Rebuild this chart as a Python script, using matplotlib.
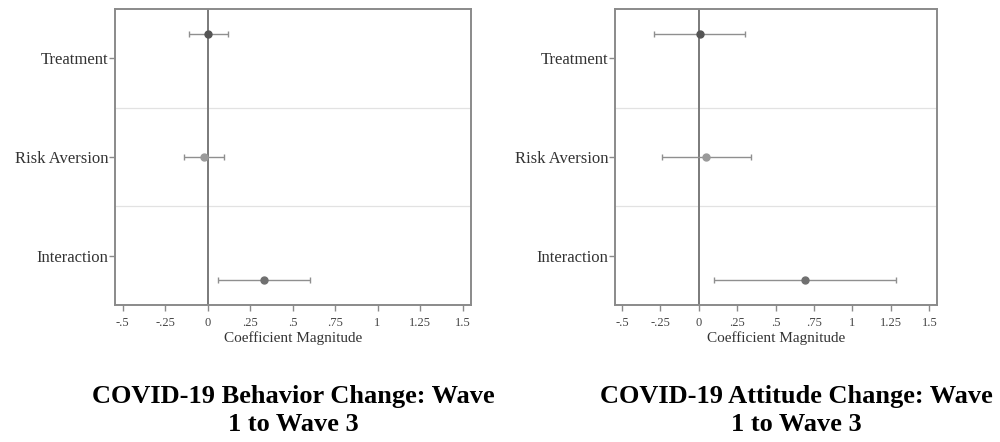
import numpy as np
import matplotlib
matplotlib.use("Agg")
import matplotlib.pyplot as plt

plt.rcParams['font.family'] = ['Liberation Serif', 'DejaVu Serif']

# --- data ---
terms = ["Treatment", "Risk Aversion", "Interaction"]

behavior_coef = [0.0, -0.02, 0.33]
behavior_lo = [-0.11, -0.14, 0.06]
behavior_hi = [0.12, 0.095, 0.60]

attitude_coef = [0.01, 0.045, 0.69]
attitude_lo = [-0.29, -0.24, 0.10]
attitude_hi = [0.30, 0.34, 1.28]

xtick_vals = [-0.5, -0.25, 0, 0.25, 0.5, 0.75, 1, 1.25, 1.5]
xtick_labels = ["-.5", "-.25", "0", ".25", ".5", ".75", "1", "1.25", "1.5"]

titles = ["COVID-19 Behavior Change: Wave\n1 to Wave 3",
          "COVID-19 Attitude Change: Wave\n1 to Wave 3"]

# small vertical offsets like stata coefplot output
offsets = [-0.25, 0.0, 0.25]
dot_colors = ["#555555", "#9a9a9a", "#707070"]
frame_col = "#8a8a8a"


def draw_panel(ax, coef, lo, hi):
    ypos = np.arange(1, len(terms) + 1)
    for i in range(len(terms)):
        y = ypos[i] + offsets[i]
        ax.errorbar(coef[i], y,
                    xerr=[[coef[i] - lo[i]], [hi[i] - coef[i]]],
                    fmt='o', color=dot_colors[i], ecolor="#8f8f8f",
                    elinewidth=1.0, capsize=2.5, capthick=1.0, markersize=5, zorder=3)
    ax.axvline(0, color="#7a7a7a", linewidth=1.4, zorder=2)
    for sep in [1.5, 2.5]:
        ax.axhline(sep, color="#e2e2e2", linewidth=0.9, zorder=1)

    ax.set_xlim(-0.545, 1.55)
    ax.set_ylim(3.5, 0.5)
    ax.set_yticks(ypos)
    ax.set_yticklabels(terms, fontsize=12)
    ax.set_xticks(xtick_vals)
    ax.set_xticklabels(xtick_labels, fontsize=9, color="#444444")
    ax.set_xlabel("Coefficient Magnitude", fontsize=11, color="#333333", labelpad=1)
    ax.tick_params(axis='both', colors=frame_col, length=4, width=1.0)
    ax.tick_params(axis='y', labelcolor="#333333", pad=1)
    ax.tick_params(axis='x', labelcolor="#444444", pad=5)
    for sp in ax.spines.values():
        sp.set_color(frame_col)
        sp.set_linewidth(1.4)


fig = plt.figure(figsize=(10, 4.42), dpi=100)
ax1 = fig.add_axes([0.115, 0.310, 0.356, 0.670])
ax2 = fig.add_axes([0.615, 0.310, 0.322, 0.670])

draw_panel(ax1, behavior_coef, behavior_lo, behavior_hi)
draw_panel(ax2, attitude_coef, attitude_lo, attitude_hi)

fig.text(0.293, 0.13, titles[0], ha='center', va='top', fontsize=19,
         fontweight='bold', linespacing=1.3)
fig.text(0.796, 0.13, titles[1], ha='center', va='top', fontsize=19,
         fontweight='bold', linespacing=1.3)

fig.savefig("out.png", dpi=100)
